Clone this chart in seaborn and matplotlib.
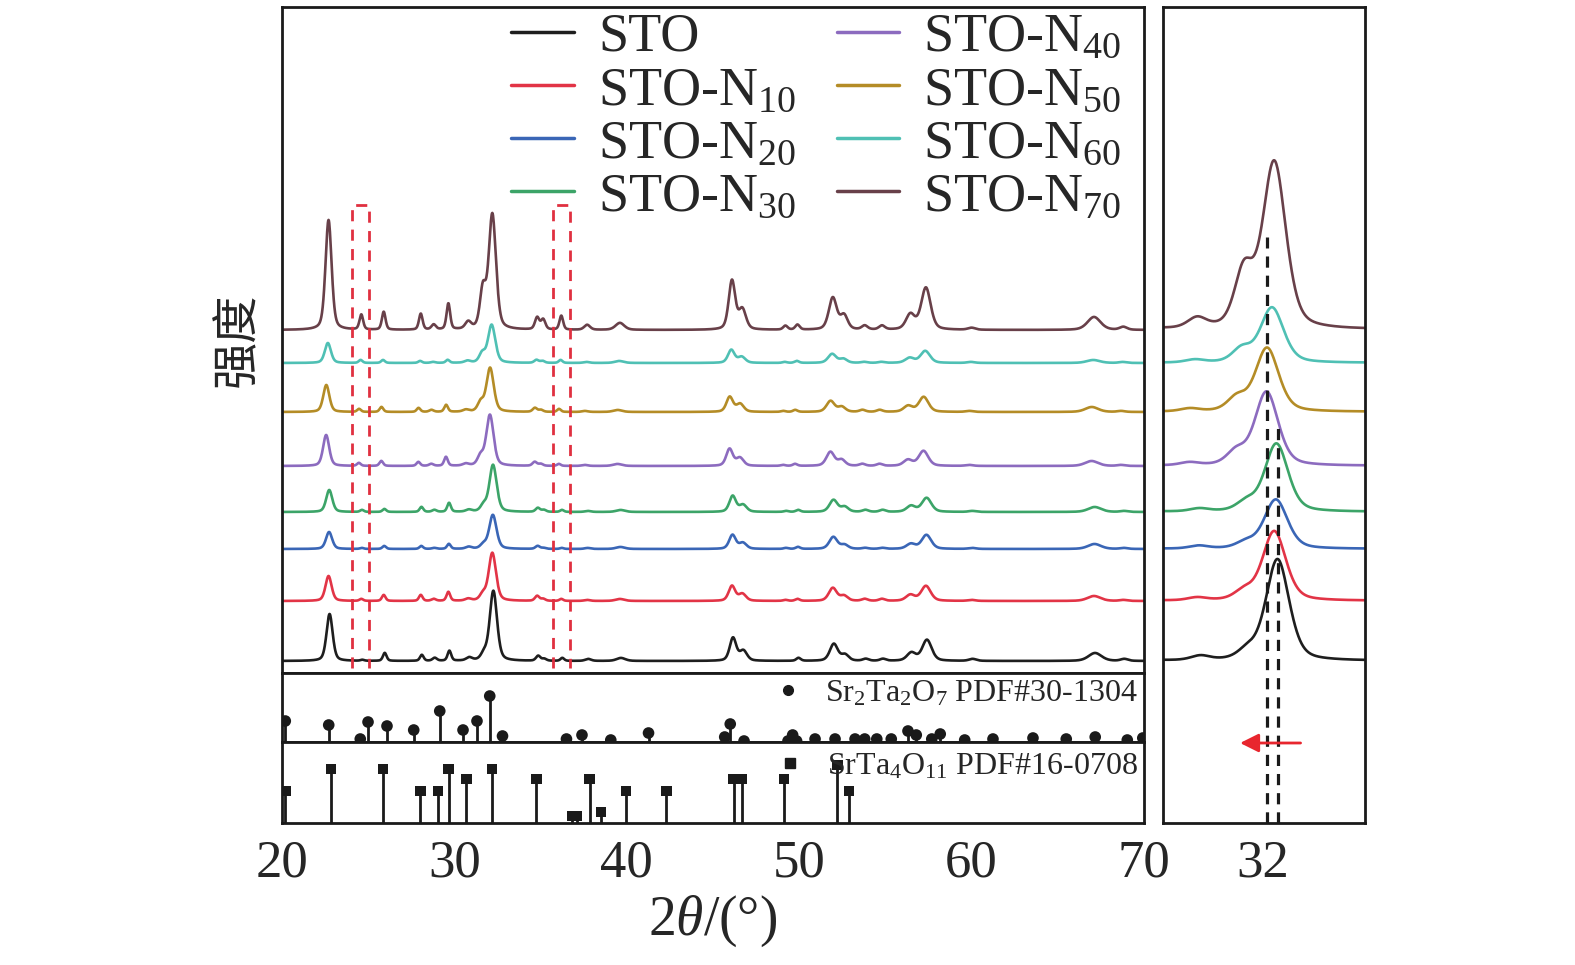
import numpy as np
import matplotlib
matplotlib.use('Agg')
import matplotlib.pyplot as plt
import seaborn as sns
from matplotlib.lines import Line2D

# samples
labels = ['STO', 'STO-N$_{10}$', 'STO-N$_{20}$', 'STO-N$_{30}$',
          'STO-N$_{40}$', 'STO-N$_{50}$', 'STO-N$_{60}$', 'STO-N$_{70}$']
colors = ['#1e1e1e', '#e23446', '#3a66b6', '#3ca468',
          '#8c6bbf', '#b48c26', '#4fc0b4', '#684049']

# peaks: position (deg), FWHM (deg)
peak_pos = [22.7, 24.6, 25.9, 28.05, 28.8, 29.65, 30.8, 31.65, 32.2, 34.8, 35.15, 36.2, 37.7,
            39.6, 46.1, 46.7, 49.2, 49.9, 51.95, 52.6, 53.8, 54.8, 56.45, 57.35, 60.0, 67.1, 68.8]
peak_fwhm = [0.42, 0.25, 0.25, 0.25, 0.3, 0.25, 0.4, 0.4, 0.5, 0.3, 0.3, 0.25, 0.4,
             0.6, 0.45, 0.5, 0.3, 0.3, 0.55, 0.5, 0.4, 0.4, 0.6, 0.65, 0.5, 0.9, 0.5]
# per-sample shift of the pattern (deg)
peak_shift = [0.06, 0.0, 0.03, 0.04, -0.14, -0.13, -0.04, 0.0]

h_sto = [47, 1, 8, 6, 3, 10, 3, 6, 70, 5, 2, 3, 2, 3, 23, 10, 0, 3, 17, 6, 2, 2, 8, 21, 2, 8, 2]
h_n10 = [25, 2, 6, 6, 2, 9, 2, 6, 48, 5, 2, 2, 1, 2, 15, 7, 1, 2, 13, 5, 2, 2, 6, 15, 1, 5, 1]
h_n20 = [17, 1, 3, 3, 1, 5, 2, 4, 34, 3, 1, 1, 1, 2, 14, 6, 1, 2, 12, 4, 1, 1, 5, 14, 1, 5, 1]
h_n30 = [22, 2, 3, 5, 2, 9, 2, 6, 47, 4, 2, 2, 1, 2, 16, 7, 1, 2, 12, 5, 2, 2, 6, 14, 1, 5, 1]
h_n40 = [31, 3, 5, 4, 2, 9, 2, 9, 51, 4, 2, 2, 1, 2, 17, 8, 1, 2, 14, 6, 2, 2, 6, 15, 1, 5, 1]
h_n50 = [27, 3, 5, 4, 2, 7, 2, 9, 44, 4, 2, 3, 1, 2, 15, 8, 1, 2, 11, 5, 2, 2, 6, 15, 1, 5, 1]
h_n60 = [20, 3, 3, 2, 1, 3, 2, 9, 38, 3, 2, 3, 1, 2, 13, 6, 1, 2, 9, 4, 1, 1, 5, 12, 1, 3, 1]
h_n70 = [110, 15, 18, 16, 5, 26, 7, 38, 115, 12, 10, 14, 5, 7, 49, 20, 4, 5, 32, 14, 4, 4, 15, 42, 2, 13, 3]
heights = [h_sto, h_n10, h_n20, h_n30, h_n40, h_n50, h_n60, h_n70]

# reference cards
sr2ta2o7_pos = [20.19, 22.71, 24.54, 24.99, 26.09, 27.64, 29.15, 30.5, 31.31, 32.05, 32.79, 36.5,
                37.4, 39.07, 41.26, 45.68, 46.0, 46.8, 49.35, 49.62, 49.85, 50.92, 52.08, 53.24,
                53.8, 54.5, 55.34, 56.31, 56.79, 57.69, 58.18, 59.6, 61.24, 63.56, 65.49, 67.17,
                69.03, 69.93]
sr2ta2o7_int = [21, 17, 3, 20, 16, 12, 31, 12, 21, 46, 6, 3, 7, 2, 9, 5, 18, 1, 1, 7, 1, 3, 3, 3,
                3, 3, 3, 11, 7, 3, 8, 2, 3, 4, 3, 5, 2, 4]
srta4o11_pos = [20.19, 22.84, 25.86, 28.02, 29.05, 29.66, 30.7, 32.18, 34.76, 36.85, 37.1, 37.85,
                38.5, 39.95, 42.3, 46.2, 46.67, 49.12, 52.2, 52.89]
srta4o11_int = [32, 54, 54, 32, 32, 54, 44, 54, 44, 7, 7, 44, 11, 32, 32, 44, 44, 44, 58, 32]

# layout constants
offsets = [12, 72, 124, 161, 207, 261, 310, 343]
zoom_gain = 1.45


def pattern(x, h, shift):
    y = np.zeros_like(x)
    for p, w, a in zip(peak_pos, peak_fwhm, h):
        d = (x - p - shift) / w
        y += a * (0.6 * np.exp(-4 * np.log(2) * d ** 2) + 0.4 / (1 + 4 * d ** 2))
    return y


sns.set_theme(style='white')
plt.rcParams['font.family'] = ['Liberation Serif', 'DejaVu Serif']
plt.rcParams['mathtext.fontset'] = 'custom'
plt.rcParams['mathtext.rm'] = 'Liberation Serif'
plt.rcParams['mathtext.it'] = 'Liberation Serif:italic'
plt.rcParams['mathtext.default'] = 'regular'
plt.rcParams['axes.linewidth'] = 2.0
plt.rcParams['axes.edgecolor'] = '#1a1a1a'

W, H = 1575, 965
fig = plt.figure(figsize=(W / 100, H / 100), dpi=100)


def rect(l, t, r, b):
    return [l / W, 1 - b / H, (r - l) / W, (b - t) / H]


ax = fig.add_axes(rect(282, 7, 1144, 673))
ax1 = fig.add_axes(rect(282, 673, 1144, 742), sharex=ax)
ax2 = fig.add_axes(rect(282, 742, 1144, 823), sharex=ax)
axz = fig.add_axes(rect(1163, 7, 1365, 823))

x = np.arange(20, 70.001, 0.02)
xz = np.arange(30.15, 33.9, 0.01)
for lab, col, h, s, off in zip(labels, colors, heights, peak_shift, offsets):
    sns.lineplot(x=x, y=off + pattern(x, h, s), ax=ax, color=col, lw=1.9,
                 label=lab, estimator=None, sort=False)
    sns.lineplot(x=xz, y=off + zoom_gain * pattern(xz, h, s), ax=axz, color=col, lw=1.9,
                 estimator=None, sort=False, legend=False)

ax.set_xlim(20, 70)
ax.set_ylim(0, 666)
axz.set_xlim(30.18, 33.85)
axz.set_ylim(-150, 666)

# dashed red boxes
for x0, x1 in [(24.05, 25.05), (35.72, 36.7)]:
    ax.plot([x0, x0, x1, x1], [5, 468, 468, 5], color='#e03040', lw=2, ls=(0, (4, 3)))

leg = ax.legend(loc='upper left', bbox_to_anchor=(0.266, 0.992), ncol=2, frameon=False,
                fontsize=39, handlelength=1.15, handletextpad=0.45, columnspacing=0.75,
                labelspacing=0.05, borderpad=0.0, borderaxespad=0.0)
for ln in leg.get_lines():
    ln.set_linewidth(2.5)

# reference sticks
ax1.vlines(sr2ta2o7_pos, 0, sr2ta2o7_int, color='#1a1a1a', lw=2)
sns.scatterplot(x=sr2ta2o7_pos, y=sr2ta2o7_int, ax=ax1, color='#1a1a1a', s=70,
                marker='o', edgecolor='none', zorder=3)
ax1.set_ylim(0, 69)
ax2.vlines(srta4o11_pos, 0, srta4o11_int, color='#1a1a1a', lw=2)
sns.scatterplot(x=srta4o11_pos, y=srta4o11_int, ax=ax2, color='#1a1a1a', s=60,
                marker='s', edgecolor='none', zorder=3)
ax2.set_ylim(0, 81)

for a, mk, txt in [(ax1, 'o', 'Sr$_2$Ta$_2$O$_7$ PDF#30-1304'),
                   (ax2, 's', 'SrTa$_4$O$_{11}$ PDF#16-0708')]:
    h = Line2D([], [], ls='', marker=mk, color='#1a1a1a', markersize=7)
    a.legend([h], [txt], loc='center right', bbox_to_anchor=(1.0, 0.7), frameon=False,
             fontsize=23, handlelength=0.8, handletextpad=0.75, borderpad=0, borderaxespad=0.2)

# zoom panel marks
axz.plot([32.07, 32.07], [-150, 436], color='#1a1a1a', lw=2.3, ls=(0, (3.5, 2.5)))
axz.plot([32.27, 32.27], [-150, 249], color='#1a1a1a', lw=2.3, ls=(0, (3.5, 2.5)))
axz.annotate('', xy=(31.53, -70), xytext=(32.73, -70),
             arrowprops=dict(arrowstyle='-|>', color='#e8262e', lw=2, mutation_scale=28))

for a in (ax, ax1):
    a.tick_params(axis='x', labelbottom=False, length=0)
for a in (ax, ax1, ax2, axz):
    a.set_yticks([])
    a.set_ylabel('')
ax2.set_xticks([20, 30, 40, 50, 60, 70])
ax2.tick_params(axis='x', labelsize=38, length=0, pad=12)
axz.set_xticks([32])
axz.tick_params(axis='x', labelsize=38, length=0, pad=12)

ax2.set_xlabel(r'2$\mathit{\theta}$/(°)', fontsize=40, labelpad=4)
ax.set_ylabel('强度', family=['Noto Sans CJK SC', 'DejaVu Sans'], fontsize=34, labelpad=14)

fig.savefig('out.png', dpi=100)
